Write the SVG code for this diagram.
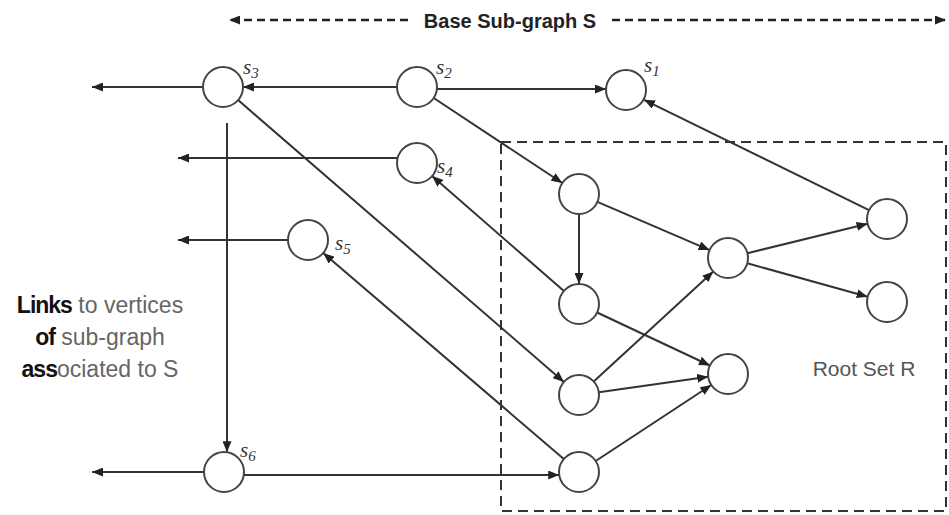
<svg xmlns="http://www.w3.org/2000/svg" width="949" height="515" viewBox="0 0 949 515">
<style>
.e{stroke:#333;stroke-width:2;fill:none;marker-end:url(#ah)}
.n{fill:#fff;stroke:#444;stroke-width:2}
.lb{font-family:"Liberation Serif",serif;font-style:italic;font-size:21px;fill:#333}
.sub{font-size:15px}
.t{font-family:"Liberation Sans",Arial,sans-serif}
</style>
<defs>
<marker id="ah" markerUnits="userSpaceOnUse" markerWidth="11" markerHeight="9" refX="11" refY="4.5" orient="auto">
<path d="M0,0 L11,4.5 L0,9 z" fill="#222"/>
</marker>
</defs>
<rect width="949" height="515" fill="#fff"/>
<g id="root-set-box">
<rect x="501" y="142" width="445" height="369" fill="none" stroke="#333" stroke-width="2" stroke-dasharray="10,6"/>
<text x="864" y="376" class="t" font-size="21" fill="#555" text-anchor="middle">Root Set R</text>
</g>
<g id="base-subgraph-label">
<line x1="408" y1="20" x2="229" y2="20" class="e" stroke-dasharray="8,5" style="stroke:#222;stroke-width:2.5"/>
<line x1="612" y1="20" x2="946" y2="20" class="e" stroke-dasharray="8,5" style="stroke:#222;stroke-width:2.5"/>
<text x="510" y="28" class="t" font-size="20" font-weight="bold" fill="#222" text-anchor="middle">Base Sub-graph S</text>
</g>
<g id="links-label" class="t" font-size="23" text-anchor="middle">
<text x="100" y="313"><tspan font-weight="bold" fill="#111" letter-spacing="-1">Links</tspan><tspan fill="#666"> to vertices</tspan></text>
<text x="100" y="345"><tspan font-weight="bold" fill="#111" letter-spacing="-1">of</tspan><tspan fill="#666"> sub-graph</tspan></text>
<text x="100" y="377"><tspan font-weight="bold" fill="#111" letter-spacing="-1">ass</tspan><tspan fill="#666">ociated to S</tspan></text>
</g>
<g id="connectors">
<line x1="203" y1="87" x2="92" y2="87" class="e"/>
<line x1="397" y1="87" x2="243" y2="87" class="e"/>
<line x1="437" y1="89" x2="606" y2="89" class="e"/>
<line x1="433.7" y1="98" x2="562.3" y2="183" class="e"/>
<line x1="238.1" y1="100.1" x2="563.9" y2="381.9" class="e"/>
<line x1="397.6" y1="158" x2="178" y2="158" class="e"/>
<line x1="563.9" y1="290.9" x2="432.1" y2="176.1" class="e"/>
<line x1="288" y1="240" x2="178" y2="240" class="e"/>
<line x1="563.8" y1="459" x2="323.2" y2="253" class="e"/>
<line x1="227" y1="123" x2="227" y2="452.2" class="e"/>
<line x1="204" y1="472" x2="92" y2="472" class="e"/>
<line x1="243.8" y1="475" x2="559.2" y2="475" class="e"/>
<line x1="869" y1="210.2" x2="644" y2="99.8" class="e"/>
<line x1="579" y1="214" x2="579" y2="284" class="e"/>
<line x1="597.4" y1="201.9" x2="709.6" y2="250.1" class="e"/>
<line x1="597.1" y1="312.5" x2="709.9" y2="365.5" class="e"/>
<line x1="593.7" y1="381.5" x2="713.3" y2="271.5" class="e"/>
<line x1="598.8" y1="392.2" x2="708.2" y2="376.8" class="e"/>
<line x1="595.7" y1="461" x2="711.3" y2="385" class="e"/>
<line x1="747.4" y1="253.2" x2="867.6" y2="223.8" class="e"/>
<line x1="747.3" y1="263.3" x2="867.7" y2="296.7" class="e"/>
</g>
<g id="s3"><circle cx="223" cy="87" r="20" class="n"/><text x="243" y="74" class="lb">s<tspan class="sub" dy="4">3</tspan></text></g>
<g id="s2"><circle cx="417" cy="87" r="20" class="n"/><text x="436" y="74" class="lb">s<tspan class="sub" dy="4">2</tspan></text></g>
<g id="s1"><circle cx="626" cy="90" r="20" class="n"/><text x="644" y="72" class="lb">s<tspan class="sub" dy="4">1</tspan></text></g>
<g id="s4"><circle cx="417" cy="163" r="20" class="n"/><text x="437" y="173" class="lb">s<tspan class="sub" dy="4">4</tspan></text></g>
<g id="s5"><circle cx="308" cy="240" r="20" class="n"/><text x="335" y="250" class="lb">s<tspan class="sub" dy="4">5</tspan></text></g>
<g id="s6"><circle cx="224" cy="472" r="20" class="n"/><text x="240" y="457" class="lb">s<tspan class="sub" dy="4">6</tspan></text></g>
<g id="rA"><circle cx="579" cy="194" r="20" class="n"/></g>
<g id="rB"><circle cx="579" cy="304" r="20" class="n"/></g>
<g id="rC"><circle cx="579" cy="395" r="20" class="n"/></g>
<g id="rD"><circle cx="579" cy="472" r="20" class="n"/></g>
<g id="rE"><circle cx="728" cy="258" r="20" class="n"/></g>
<g id="rF"><circle cx="728" cy="374" r="20" class="n"/></g>
<g id="rG"><circle cx="887" cy="219" r="20" class="n"/></g>
<g id="rH"><circle cx="887" cy="302" r="20" class="n"/></g>
</svg>
